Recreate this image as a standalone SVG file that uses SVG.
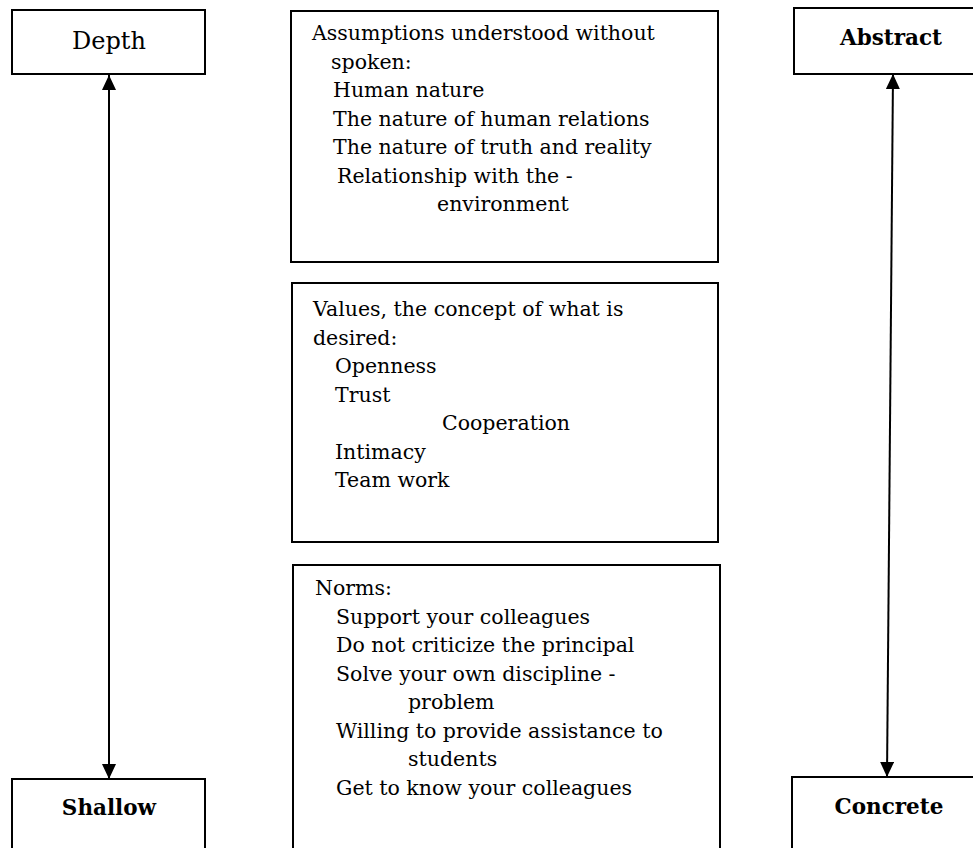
<svg xmlns="http://www.w3.org/2000/svg" width="973" height="848" viewBox="0 0 973 848">
<style>
.box{fill:#fff;stroke:#000;stroke-width:2}
.t{font-family:"DejaVu Serif","Liberation Serif",serif;font-size:20.5px;fill:#000}
.lbl{font-family:"DejaVu Serif","Liberation Serif",serif;font-size:24px;fill:#000;text-anchor:middle}
.blbl{font-family:"DejaVu Serif","Liberation Serif",serif;font-size:21.5px;font-weight:bold;fill:#000;text-anchor:middle}
.conn{stroke:#000;stroke-width:2;fill:none;marker-start:url(#ah);marker-end:url(#ah)}
</style>
<defs>
<marker id="ah" viewBox="0 0 15 14" refX="15" refY="7" markerWidth="15" markerHeight="14" markerUnits="userSpaceOnUse" orient="auto-start-reverse">
<path d="M0,0 L15,7 L0,14 z" fill="#000"/>
</marker>
</defs>
<rect width="973" height="848" fill="#fff"/>
<g id="depth">
<rect class="box" x="12" y="10" width="193" height="64"/>
<text class="lbl" x="109" y="49">Depth</text>
</g>
<g id="shallow">
<rect class="box" x="12" y="779" width="193" height="90"/>
<text class="blbl" x="109" y="815">Shallow</text>
</g>
<g id="abstract">
<rect class="box" x="794" y="8" width="194" height="66"/>
<text class="blbl" x="891" y="45">Abstract</text>
</g>
<g id="concrete">
<rect class="box" x="792" y="777" width="194" height="90"/>
<text class="blbl" x="889" y="814">Concrete</text>
</g>
<g id="assumptions">
<rect class="box" x="291" y="11" width="427" height="251"/>
<text class="t" x="312" y="40">Assumptions understood without</text>
<text class="t" x="331" y="68.5">spoken:</text>
<text class="t" x="333" y="97">Human nature</text>
<text class="t" x="333" y="125.5">The nature of human relations</text>
<text class="t" x="333" y="154">The nature of truth and reality</text>
<text class="t" x="337" y="182.5">Relationship with the -</text>
<text class="t" x="437" y="211">environment</text>
</g>
<g id="values">
<rect class="box" x="292" y="283" width="426" height="259"/>
<text class="t" x="313" y="316">Values, the concept of what is</text>
<text class="t" x="313" y="344.5">desired:</text>
<text class="t" x="335" y="373">Openness</text>
<text class="t" x="335" y="401.5">Trust</text>
<text class="t" x="442" y="430">Cooperation</text>
<text class="t" x="335" y="458.5">Intimacy</text>
<text class="t" x="335" y="487">Team work</text>
</g>
<g id="norms">
<rect class="box" x="293" y="565" width="427" height="300"/>
<text class="t" x="315" y="595">Norms:</text>
<text class="t" x="336" y="623.5">Support your colleagues</text>
<text class="t" x="336" y="652">Do not criticize the principal</text>
<text class="t" x="336" y="680.5">Solve your own discipline -</text>
<text class="t" x="408" y="709">problem</text>
<text class="t" x="336" y="737.5">Willing to provide assistance to</text>
<text class="t" x="408" y="766">students</text>
<text class="t" x="336" y="794.5">Get to know your colleagues</text>
</g>
<g id="connectors">
<line class="conn" x1="109" y1="75" x2="109" y2="779"/>
<line class="conn" x1="893" y1="74" x2="887" y2="777"/>
</g>
</svg>
